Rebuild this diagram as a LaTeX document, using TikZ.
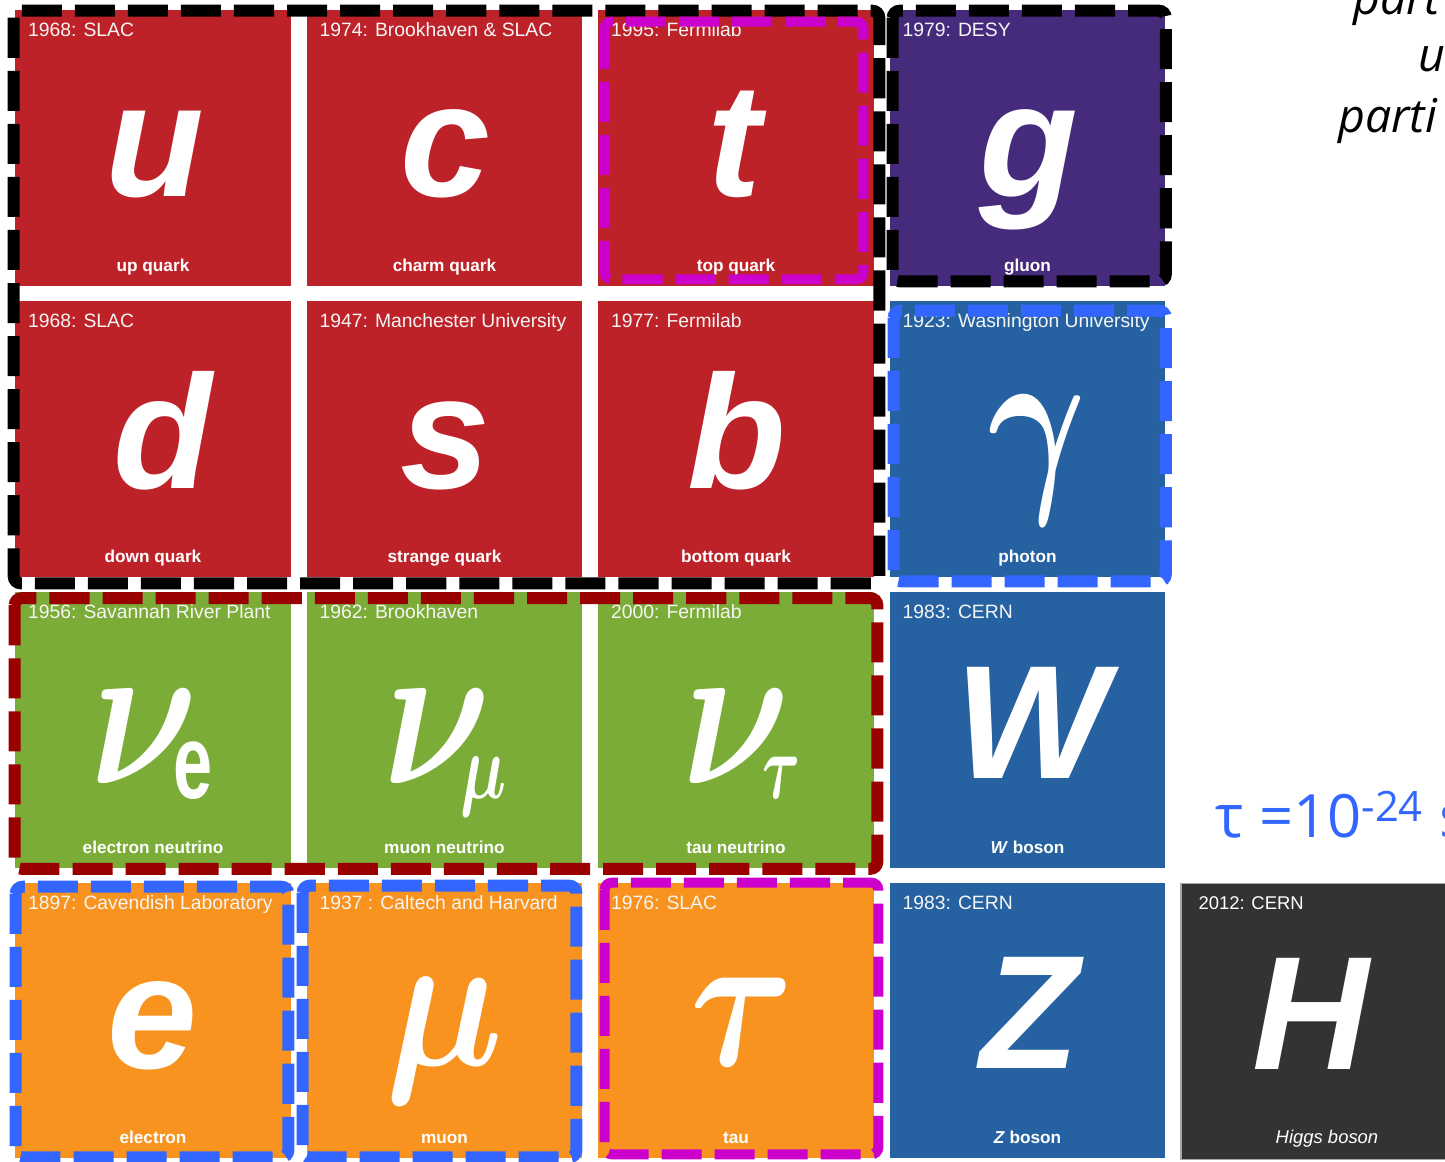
\documentclass[tikz,border=0pt]{standalone}
\usepackage{amsmath}
\usepackage{fontspec}
\setmainfont{Liberation Sans}
\newfontfamily\slidefont{Open Sans}
\usetikzlibrary{calc}
\definecolor{quarkred}{RGB}{190,34,41}
\definecolor{gluonpurple}{RGB}{70,43,125}
\definecolor{bosonblue}{RGB}{38,98,162}
\definecolor{nugreen}{RGB}{123,172,55}
\definecolor{leporange}{RGB}{247,147,30}
\definecolor{higgsgray}{RGB}{51,51,51}
\definecolor{dashblue}{RGB}{51,102,255}
\definecolor{dashred}{RGB}{153,0,0}
\definecolor{dashmagenta}{RGB}{204,0,204}
% scaled greek glyph: horizontal factor, vertical factor, symbol
\newcommand{\greeksym}[3]{\scalebox{#1}[#2]{$\boldsymbol{#3}$}}

\begin{document}
\begin{tikzpicture}[x=0.02cm, y=-0.02cm,
    tile/.style={rectangle, inner sep=0pt, minimum size=5.52cm},
    year/.style={anchor=base west, inner sep=0pt, text=white!92!gray,
                 font=\fontsize{11}{11}\selectfont},
    partname/.style={anchor=base, inner sep=0pt, text=white,
                     font=\fontsize{9.8}{9.8}\selectfont\bfseries},
    sym/.style={anchor=base, inner sep=0pt, text=white,
                font=\fontsize{92}{92}\selectfont\bfseries\itshape},
    greek/.style={anchor=base, inner sep=0pt, text=white},
    dashbox/.style={rounded corners=4pt, line width=6.8pt,
                    dash pattern=on 22.8pt off 7.4pt},
    slide/.style={anchor=base west, inner sep=0pt}
  ]
    \clip (0,0) rectangle (1445,1162);

    % quarks
    \node[tile, fill=quarkred] (up) at (153,148) {};
    \node[year] at ($(up.north west)+(13,27)$) {1968: SLAC};
    \node[sym] at ($(up)+(2,49)$) {u};
    \node[partname] at ($(up.south)+(0,-15)$) {up quark};

    \node[tile, fill=quarkred] (charm) at (444.5,148) {};
    \node[year] at ($(charm.north west)+(13,27)$) {1974: Brookhaven \& SLAC};
    \node[sym] at ($(charm)+(1,49)$) {c};
    \node[partname] at ($(charm.south)+(0,-15)$) {charm quark};

    \node[tile, fill=quarkred] (top) at (736,148) {};
    \node[year] at ($(top.north west)+(13,27)$) {1995: Fermilab};
    \node[sym] at ($(top)+(-2,49)$) {t};
    \node[partname] at ($(top.south)+(0,-15)$) {top quark};

    \node[tile, fill=quarkred] (down) at (153,439) {};
    \node[year] at ($(down.north west)+(13,27)$) {1968: SLAC};
    \node[sym] at ($(down)+(10,49)$) {d};
    \node[partname] at ($(down.south)+(0,-15)$) {down quark};

    \node[tile, fill=quarkred] (strange) at (444.5,439) {};
    \node[year] at ($(strange.north west)+(13,27)$) {1947: Manchester University};
    \node[sym] at ($(strange)+(1,49)$) {s};
    \node[partname] at ($(strange.south)+(0,-15)$) {strange quark};

    \node[tile, fill=quarkred] (bottom) at (736,439) {};
    \node[year] at ($(bottom.north west)+(13,27)$) {1977: Fermilab};
    \node[sym] at ($(bottom)+(1,49)$) {b};
    \node[partname] at ($(bottom.south)+(0,-15)$) {bottom quark};

    % leptons
    \node[tile, fill=nugreen] (nue) at (153,730) {};
    \node[year] at ($(nue.north west)+(13,27)$) {1956: Savannah River Plant};
    \node[greek] (nuesym) at ($(nue)+(-9,53)$) {\greeksym{9.5}{12}{\nu}};
    \node[greek] at ($(nue)+(40,68)$) {\greeksym{4}{6}{\mathrm{e}}};
    \node[partname] at ($(nue.south)+(0,-15)$) {electron neutrino};

    \node[tile, fill=nugreen] (numu) at (444.5,730) {};
    \node[year] at ($(numu.north west)+(13,27)$) {1962: Brookhaven};
    \node[greek] (numusym) at ($(numu)+(-7,53)$) {\greeksym{9.5}{12}{\nu}};
    \node[greek] at ($(numu)+(39,68)$) {\greeksym{3.7}{5.3}{\mu}};
    \node[partname] at ($(numu.south)+(0,-15)$) {muon neutrino};

    \node[tile, fill=nugreen] (nutau) at (736,730) {};
    \node[year] at ($(nutau.north west)+(13,27)$) {2000: Fermilab};
    \node[greek] (nutausym) at ($(nutau)+(0,53)$) {\greeksym{9.5}{12}{\nu}};
    \node[greek] at ($(nutau)+(45,68)$) {\greeksym{3.3}{5.3}{\tau}};
    \node[partname] at ($(nutau.south)+(0,-15)$) {tau neutrino};

    \node[tile, fill=leporange] (electron) at (153,1020.5) {};
    \node[year] at ($(electron.north west)+(13,27)$) {1897: Cavendish Laboratory};
    \node[sym] at ($(electron)+(-1,48)$) {e};
    \node[partname] at ($(electron.south)+(0,-15)$) {electron};

    \node[tile, fill=leporange] (muon) at (444.5,1020.5) {};
    \node[year] at ($(muon.north west)+(13,27)$) {1937 : Caltech and Harvard};
    \node[greek] at ($(muon)+(0,45)$) {\greeksym{9.5}{11.2}{\mu}};
    \node[partname] at ($(muon.south)+(0,-15)$) {muon};

    \node[tile, fill=leporange] (tau) at (736,1020.5) {};
    \node[year] at ($(tau.north west)+(13,27)$) {1976: SLAC};
    \node[greek] at ($(tau)+(6,45)$) {\greeksym{9}{11.2}{\tau}};
    \node[partname] at ($(tau.south)+(0,-15)$) {tau};

    % bosons
    \node[tile, fill=gluonpurple] (gluon) at (1027.5,148) {};
    \node[year] at ($(gluon.north west)+(13,27)$) {1979: DESY};
    \node[sym] at ($(gluon)+(1,49)$) {g};
    \node[partname] at ($(gluon.south)+(0,-15)$) {gluon};

    \node[tile, fill=bosonblue] (photon) at (1027.5,439) {};
    \node[year] at ($(photon.north west)+(13,27)$) {1923: Washington University};
    \node[greek] at ($(photon)+(10,46)$) {\greeksym{8.5}{11.5}{\gamma}};
    \node[partname] at ($(photon.south)+(0,-15)$) {photon};

    \node[tile, fill=bosonblue] (wboson) at (1027.5,730) {};
    \node[year] at ($(wboson.north west)+(13,27)$) {1983: CERN};
    \node[sym] at ($(wboson)+(4,48)$) {W};
    \node[partname] at ($(wboson.south)+(0,-15)$) {\textit{W} boson};

    \node[tile, fill=bosonblue] (zboson) at (1027.5,1020.5) {};
    \node[year] at ($(zboson.north west)+(13,27)$) {1983: CERN};
    \node[sym] at ($(zboson)+(2,48)$) {Z};
    \node[partname] at ($(zboson.south)+(0,-15)$) {\textit{Z} boson};

    \node[tile, fill=higgsgray, draw=gray!70, line width=1pt] (higgs) at (1319,1021.5) {};
    \node[year, text=white, font=\fontsize{10.5}{10.5}\selectfont]
      at ($(higgs.north west)+(18,27)$) {2012: CERN};
    \node[sym] at ($(higgs)+(-8,48)$) {H};
    \node[partname, font=\fontsize{10.5}{10.5}\selectfont\itshape]
      at ($(higgs.south)+(8,-17)$) {Higgs boson};

    % dashed groupings
    \draw[dashbox, black] ($(up.north west)+(-1,1)$) rectangle ($(bottom.south east)+(5,6)$);
    \draw[dashbox, black] ($(gluon.north west)+(3.5,1)$) rectangle ($(gluon.south east)+(0,-5)$);
    \draw[dashbox, dashmagenta, line width=5.7pt] ($(top.north west)+(7,12)$) rectangle ($(top.south east)+(-11,-7)$);
    \draw[dashbox, dashblue] ($(photon.north west)+(4.5,10)$) rectangle ($(photon.south east)+(0,4)$);
    \draw[dashbox, dashred] ($(nue.north west)+(0,6.5)$) rectangle ($(nutau.south east)+(3,0.5)$);
    \draw[dashbox, dashblue] ($(electron.north west)+(1,4.5)$) rectangle ($(electron.south east)+(-3,-1.5)$);
    \draw[dashbox, dashblue] ($(muon.north west)+(-3.5,3.5)$) rectangle ($(muon.south east)+(-6.5,-1.5)$);
    \draw[dashbox, dashmagenta, line width=5.7pt] ($(tau.north west)+(7,0.5)$) rectangle ($(tau.south east)+(4,-4.5)$);

    % slide text
    \node[slide, font=\slidefont\itshape\fontsize{26.5}{30}\selectfont] (lineone) at (1353,15) {part};
    \node[slide, font=\slidefont\itshape\fontsize{26.5}{30}\selectfont] (linetwo) at (1418,72) {u};
    \node[slide, font=\slidefont\itshape\fontsize{26.5}{30}\selectfont] (linethree) at (1338,133) {parti};
    \node[slide, text=dashblue, font=\slidefont\fontsize{34}{34}\selectfont] (lifetime)
      at (1215,837) {τ =10\textsuperscript{-24} s};
  \end{tikzpicture}
\end{document}
